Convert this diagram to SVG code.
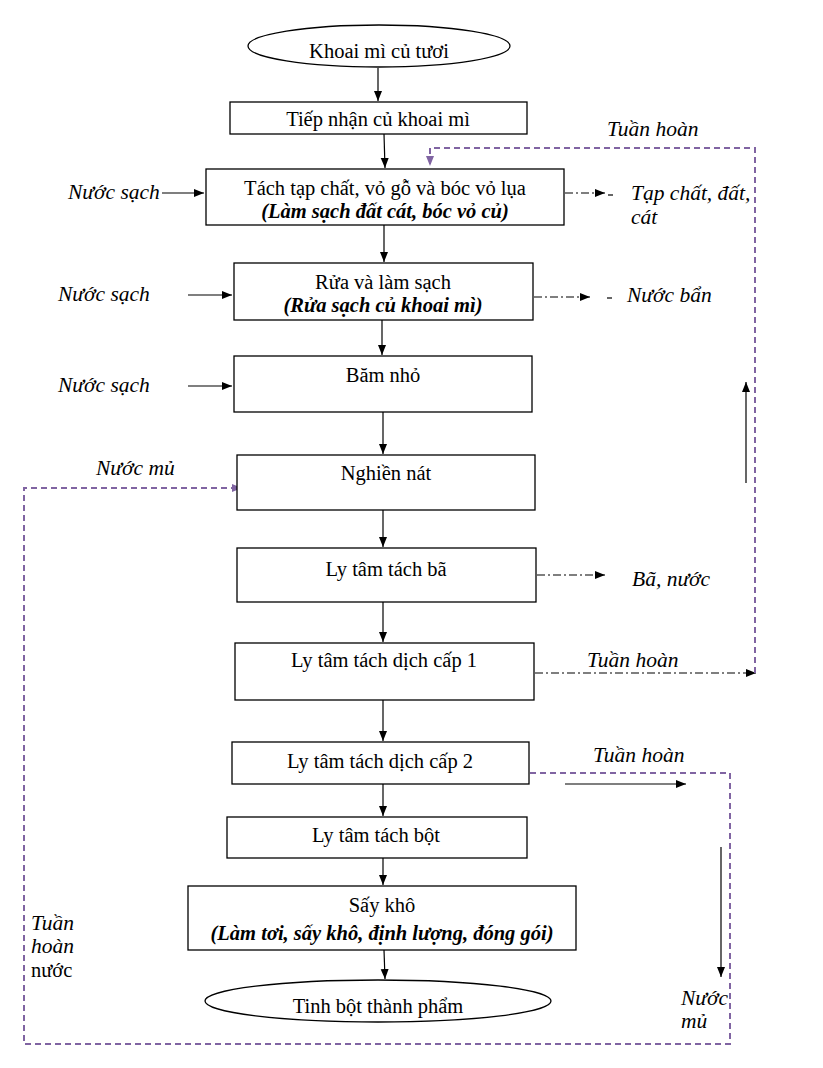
<svg xmlns="http://www.w3.org/2000/svg" width="823" height="1068" viewBox="0 0 823 1068">
<defs>
<marker id="ab" viewBox="0 0 10 10" refX="10" refY="5" markerWidth="10" markerHeight="10" markerUnits="userSpaceOnUse" orient="auto"><path d="M0,1 L10,5 L0,9 z" fill="#000"/></marker>
<marker id="ap" viewBox="0 0 10 10" refX="10" refY="5" markerWidth="10" markerHeight="10" markerUnits="userSpaceOnUse" orient="auto"><path d="M0,1 L10,5 L0,9 z" fill="#8064a2"/></marker>
<style>
.box{fill:#fff;stroke:#000;stroke-width:1.3}
.t{font-family:"Liberation Serif","Times New Roman",serif;font-size:20.5px;fill:#000}
.m{text-anchor:middle}
.i{font-style:italic;font-size:21.5px}
.bi{font-style:italic;font-weight:bold}
.ln{fill:none;stroke:#000;stroke-width:1.2}
.dd{fill:none;stroke:#000;stroke-width:1.2;stroke-dasharray:8 3 2 3}
.pu{fill:none;stroke:#8064a2;stroke-width:2;stroke-dasharray:6 4}
</style>
</defs>
<rect width="823" height="1068" fill="#fff"/>

<g id="connectors">
<line class="ln" x1="378" y1="68" x2="378" y2="101" marker-end="url(#ab)"/>
<line class="ln" x1="384" y1="134" x2="385" y2="168" marker-end="url(#ab)"/>
<line class="ln" x1="384" y1="225" x2="384" y2="262" marker-end="url(#ab)"/>
<line class="ln" x1="382" y1="320" x2="382" y2="355" marker-end="url(#ab)"/>
<line class="ln" x1="383" y1="412" x2="383" y2="454" marker-end="url(#ab)"/>
<line class="ln" x1="383" y1="510" x2="383" y2="547" marker-end="url(#ab)"/>
<line class="ln" x1="383" y1="602" x2="383" y2="642" marker-end="url(#ab)"/>
<line class="ln" x1="383" y1="700" x2="383" y2="741" marker-end="url(#ab)"/>
<line class="ln" x1="383" y1="784" x2="383" y2="816" marker-end="url(#ab)"/>
<line class="ln" x1="383" y1="858" x2="383" y2="885" marker-end="url(#ab)"/>
<line class="ln" x1="384" y1="950" x2="385" y2="979" marker-end="url(#ab)"/>

<line class="ln" x1="162" y1="193" x2="204" y2="193" marker-end="url(#ab)"/>
<line class="ln" x1="188" y1="295" x2="232" y2="295" marker-end="url(#ab)"/>
<line class="ln" x1="188" y1="386" x2="232" y2="386" marker-end="url(#ab)"/>

<line class="dd" x1="565" y1="193" x2="605" y2="193" marker-end="url(#ab)"/>
<line class="ln" x1="608" y1="195" x2="613" y2="195"/>
<line class="dd" x1="534" y1="297" x2="590" y2="297" marker-end="url(#ab)"/>
<line class="ln" x1="607" y1="298" x2="612" y2="298"/>
<line class="dd" x1="537" y1="575" x2="605" y2="575" marker-end="url(#ab)"/>
<line class="dd" x1="535" y1="673" x2="756" y2="673" marker-end="url(#ab)"/>

<line class="ln" x1="746" y1="483" x2="746" y2="382" marker-end="url(#ab)"/>
<line class="ln" x1="565" y1="784" x2="686" y2="784" marker-end="url(#ab)"/>
<line class="ln" x1="721" y1="847" x2="721" y2="977" marker-end="url(#ab)"/>

<path class="pu" d="M755,673 L755,148 L430,148 L430,166" marker-end="url(#ap)"/>
<path class="pu" d="M530,773 L730,773 L730,1044 L24,1044 L24,488 L242,488" marker-end="url(#ap)"/>
</g>

<g id="n-khoai"><ellipse class="box" cx="379" cy="46" rx="131" ry="21"/><text class="t m" x="379" y="58">Khoai mì củ tươi</text></g>
<g id="n-tiepnhan"><rect class="box" x="230" y="102" width="297" height="32"/><text class="t m" x="378" y="126">Tiếp nhận củ khoai mì</text></g>
<g id="n-tach"><rect class="box" x="206" y="169" width="358" height="56"/><text class="t m" x="385" y="195">Tách tạp chất, vỏ gỗ và bóc vỏ lụa</text><text class="t m bi" x="385" y="218">(Làm sạch đất cát, bóc vỏ củ)</text></g>
<g id="n-rua"><rect class="box" x="234" y="263" width="299" height="57"/><text class="t m" x="383" y="289">Rửa và làm sạch</text><text class="t m bi" x="383" y="312">(Rửa sạch củ khoai mì)</text></g>
<g id="n-bam"><rect class="box" x="234" y="356" width="298" height="56"/><text class="t m" x="383" y="382">Băm nhỏ</text></g>
<g id="n-nghien"><rect class="box" x="237" y="455" width="298" height="55"/><text class="t m" x="386" y="480">Nghiền nát</text></g>
<g id="n-ba"><rect class="box" x="237" y="548" width="299" height="54"/><text class="t m" x="386" y="576">Ly tâm tách bã</text></g>
<g id="n-cap1"><rect class="box" x="235" y="643" width="299" height="57"/><text class="t m" x="384" y="667">Ly tâm tách dịch cấp 1</text></g>
<g id="n-cap2"><rect class="box" x="232" y="742" width="297" height="42"/><text class="t m" x="380" y="768">Ly tâm tách dịch cấp 2</text></g>
<g id="n-bot"><rect class="box" x="227" y="817" width="300" height="41"/><text class="t m" x="376" y="842">Ly tâm tách bột</text></g>
<g id="n-say"><rect class="box" x="188" y="886" width="388" height="64"/><text class="t m" x="382" y="912">Sấy khô</text><text class="t m bi" x="382" y="940">(Làm tơi, sấy khô, định lượng, đóng gói)</text></g>
<g id="n-tinhbot"><ellipse class="box" cx="378" cy="1001" rx="173" ry="21"/><text class="t m" x="378" y="1013">Tinh bột thành phẩm</text></g>

<g id="labels">
<text class="t i" x="68" y="199">Nước sạch</text>
<text class="t i" x="58" y="301">Nước sạch</text>
<text class="t i" x="58" y="392">Nước sạch</text>
<text class="t i" x="607" y="136">Tuần hoàn</text>
<text class="t i" x="631" y="200">Tạp chất, đất,</text>
<text class="t i" x="631" y="224">cát</text>
<text class="t i" x="627" y="302">Nước bẩn</text>
<text class="t i" x="96" y="475">Nước mủ</text>
<text class="t i" x="632" y="586">Bã, nước</text>
<text class="t i" x="587" y="667">Tuần hoàn</text>
<text class="t i" x="593" y="762">Tuần hoàn</text>
<text class="t i" x="681" y="1005">Nước</text>
<text class="t i" x="681" y="1028">mủ</text>
<text class="t i" x="31" y="930">Tuần</text>
<text class="t i" x="31" y="953">hoàn</text>
<text class="t" x="31" y="977">nước</text>
</g>
</svg>
